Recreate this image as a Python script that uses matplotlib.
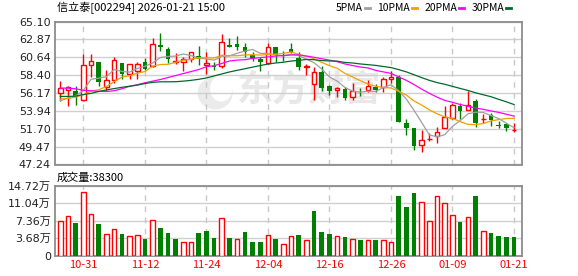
import matplotlib.pyplot as plt
from matplotlib.patches import Ellipse

# 字体: 数字用 DejaVu, 中文回退到 Noto Sans CJK
plt.rcParams['font.family'] = ['DejaVu Sans', 'Noto Sans CJK SC']

# ---- 数据 ----
tick_idx = [3, 11, 19, 27, 35, 43, 51, 59]
tick_labels = ['10-31', '11-12', '11-24', '12-04', '12-16', '12-26', '01-09', '01-21']

opens = [56.17, 56.59, 56.46, 55.27, 59.65, 60.06, 56.88, 57.79, 59.89, 58.53,
         58.98, 60.06, 59.56, 62.12, 61.67, 60.06, 60.06, 60.39, 60.76, 59.65,
         59.52, 59.52, 62.17, 62.29, 61.88, 60.88, 60.47, 59.89, 61.88, 60.97,
         61.63, 60.51, 59.40, 57.33, 58.74, 57.00, 56.50, 56.67, 55.64, 56.34,
         56.50, 56.88, 56.96, 57.95, 58.20, 52.37, 51.75, 49.69, 50.37, 50.80,
         51.75, 53.00, 54.60, 54.07, 55.14, 52.87, 53.45, 52.21, 52.29, 51.55]
highs = [57.70, 57.00, 57.00, 61.05, 61.05, 60.10, 59.07, 60.64, 59.97, 59.77,
         59.98, 60.55, 63.03, 63.61, 61.96, 61.13, 60.64, 61.34, 62.04, 61.34,
         60.10, 63.53, 63.06, 63.28, 62.37, 61.34, 60.64, 62.37, 61.88, 61.46,
         62.46, 61.34, 59.77, 59.40, 59.56, 57.12, 56.92, 56.88, 57.41, 56.79,
         57.74, 57.33, 58.20, 58.86, 58.41, 52.87, 51.75, 51.50, 51.17, 51.88,
         54.60, 54.94, 54.94, 56.42, 55.43, 53.53, 53.66, 52.66, 52.29, 52.37]
lows = [55.22, 54.52, 54.65, 55.20, 58.16, 57.00, 56.38, 57.42, 57.91, 57.91,
        57.91, 59.10, 59.40, 61.38, 59.89, 59.85, 58.98, 60.10, 59.65, 58.49,
        59.03, 59.23, 61.88, 61.50, 60.64, 60.14, 58.98, 59.85, 60.06, 60.22,
        61.13, 59.03, 58.41, 55.35, 56.42, 55.93, 55.68, 55.35, 55.35, 55.84,
        56.34, 56.26, 56.34, 57.46, 52.50, 50.88, 49.02, 48.86, 50.22, 49.98,
        51.75, 52.87, 52.87, 54.07, 51.88, 52.37, 52.08, 51.84, 51.38, 51.30]
closes = [56.79, 56.92, 55.76, 59.69, 60.22, 57.54, 57.79, 60.27, 58.53, 59.77,
          59.81, 59.15, 62.29, 61.96, 60.39, 60.18, 60.39, 61.30, 60.39, 59.89,
          59.40, 62.50, 61.88, 61.96, 61.30, 60.39, 60.06, 61.88, 60.97, 60.80,
          61.30, 59.36, 59.52, 58.78, 56.84, 56.42, 56.75, 55.60, 56.38, 56.26,
          57.00, 56.59, 57.95, 58.20, 52.54, 51.79, 49.53, 50.35, 50.45, 51.34,
          53.16, 54.69, 53.94, 54.69, 52.37, 52.95, 52.83, 52.04, 51.79, 51.60]

ma5 = [55.20, 55.54, 55.82, 56.49, 57.88, 58.03, 58.20, 59.10, 58.87, 58.78,
       59.23, 59.51, 59.91, 60.60, 60.72, 60.79, 61.04, 60.84, 60.53, 60.43,
       60.27, 60.70, 60.81, 61.13, 61.41, 61.61, 61.12, 61.12, 60.92, 60.82,
       61.00, 60.86, 60.39, 59.95, 59.16, 58.18, 57.66, 56.88, 56.40, 56.28,
       56.40, 56.37, 56.84, 57.20, 56.46, 55.41, 54.00, 52.48, 50.93, 50.69,
       50.97, 52.00, 52.72, 53.56, 53.77, 53.73, 53.36, 52.98, 52.40, 51.84]
ma10 = [55.41, 55.49, 55.66, 55.95, 56.41, 56.57, 56.98, 57.60, 58.15, 58.33,
        58.63, 58.85, 59.51, 59.73, 59.75, 60.01, 60.27, 60.38, 60.56, 60.58,
        60.53, 60.87, 60.83, 60.83, 60.92, 60.94, 60.91, 60.97, 61.02, 61.11,
        61.30, 60.99, 60.75, 60.44, 59.99, 59.59, 59.26, 58.63, 58.18, 57.72,
        57.29, 57.01, 56.86, 56.80, 56.37, 55.91, 55.18, 54.66, 54.07, 53.57,
        53.19, 53.00, 52.60, 52.25, 52.23, 52.35, 52.68, 52.85, 52.98, 53.01]
ma20 = [56.78, 56.78, 56.70, 56.50, 56.45, 56.38, 56.36, 56.45, 56.70, 57.00,
        57.20, 57.45, 57.65, 57.85, 58.10, 58.35, 58.60, 58.85, 59.10, 59.45,
        59.58, 59.86, 60.17, 60.28, 60.33, 60.48, 60.59, 60.67, 60.79, 60.84,
        60.92, 60.93, 60.79, 60.63, 60.45, 60.27, 60.08, 59.80, 59.60, 59.42,
        59.30, 59.00, 58.81, 58.62, 58.18, 57.75, 57.22, 56.65, 56.12, 55.65,
        55.24, 55.01, 54.73, 54.52, 54.30, 54.13, 53.93, 53.75, 53.52, 53.29]
ma30 = [55.74, 55.74, 55.78, 55.98, 56.12, 56.36, 56.55, 56.72, 56.88, 57.02,
        57.15, 57.35, 57.50, 57.57, 57.57, 57.58, 57.65, 57.75, 57.88, 58.05,
        58.30, 58.55, 58.80, 59.00, 59.20, 59.40, 59.60, 59.78, 59.92, 60.01,
        60.16, 60.24, 60.36, 60.33, 60.22, 60.18, 60.15, 59.99, 59.92, 59.80,
        59.71, 59.62, 59.48, 59.35, 59.09, 58.81, 58.45, 58.09, 57.75, 57.47,
        57.26, 57.00, 56.74, 56.49, 56.20, 55.95, 55.71, 55.38, 55.07, 54.73]

# 成交量 (万手)
volume = [7.31, 8.35, 6.96, 13.36, 8.77, 6.75, 4.59, 5.64, 4.45, 4.18,
          4.38, 3.41, 7.52, 5.92, 4.87, 3.41, 2.92, 2.92, 4.87, 5.29,
          3.62, 7.93, 3.62, 3.55, 5.08, 2.78, 2.78, 4.38, 3.41, 2.51,
          4.04, 4.25, 3.34, 9.47, 5.08, 4.45, 4.04, 3.83, 3.55, 3.20,
          3.34, 3.20, 3.34, 2.78, 12.60, 10.30, 13.22, 11.28, 7.31, 12.53,
          11.07, 8.56, 7.17, 8.14, 12.60, 5.22, 4.66, 4.04, 3.83, 3.83]
# 成交量柱颜色: 1 = 红(涨), 0 = 绿(跌)
vol_up = [1, 1, 0, 1, 1, 0, 1, 1, 0, 1, 1, 0, 1, 0, 0, 0, 1, 1, 0, 0,
          0, 1, 0, 1, 0, 0, 0, 1, 0, 1, 1, 0, 1, 0, 0, 0, 1, 0, 1, 0,
          1, 0, 1, 1, 0, 0, 0, 1, 1, 1, 1, 1, 0, 1, 0, 1, 0, 0, 0, 0]

price_ticks = [47.24, 49.47, 51.70, 53.94, 56.17, 58.40, 60.64, 62.87, 65.10]
vol_ticks = [0, 3.68, 7.36, 11.04, 14.72]
vol_tick_labels = ['0', '3.68万', '7.36万', '11.04万', '14.72万']
ma_names = ['5PMA', '10PMA', '20PMA', '30PMA']

RED = '#ff0000'
GREEN = '#008000'
MA_COLORS = ['#a0a0a0', '#f0a000', '#ff00ff', '#006a2e']
BORDER = '#8c8c8c'
W, H = 578, 276

fig = plt.figure(figsize=(W / 100, H / 100), dpi=100)
ax = fig.add_axes([55 / W, 1 - 164.5 / H, 467 / W, 143 / H])
axv = fig.add_axes([55 / W, 1 - 255.5 / H, 467 / W, 69.5 / H])

n = len(closes)
xs = list(range(n))
w = 0.6

# ---- K线 ----
for i in xs:
    o, h, l, c = opens[i], highs[i], lows[i], closes[i]
    if c >= o:
        ax.vlines(i, c, h, color=RED, lw=1, zorder=3)
        ax.vlines(i, l, o, color=RED, lw=1, zorder=3)
        ax.bar(i, c - o, bottom=o, width=w, facecolor='white', edgecolor=RED, lw=1, zorder=4)
    else:
        ax.vlines(i, l, h, color=GREEN, lw=1, zorder=3)
        ax.bar(i, o - c, bottom=c, width=w, color=GREEN, lw=0, zorder=4)

# 均线
for ma, col in zip([ma5, ma10, ma20, ma30], MA_COLORS):
    ax.plot(xs, ma, color=col, lw=0.9, zorder=5)

# ---- 成交量 ----
for i in xs:
    if vol_up[i]:
        axv.bar(i, volume[i], width=w, facecolor='white', edgecolor=RED, lw=1, zorder=3)
    else:
        axv.bar(i, volume[i], width=w, color=GREEN, lw=0, zorder=3)

for a, ticks in [(ax, price_ticks), (axv, vol_ticks)]:
    a.set_xlim(-0.69, 60.04)
    a.set_yticks(ticks)
    for t in ticks:
        a.axhline(t, color='#d0d0d0', lw=1, zorder=1)
    for t in tick_idx:
        a.axvline(t, color='#c8c8c8', lw=1, ls=(0, (4, 4)), zorder=1)
    for s in a.spines.values():
        s.set_color(BORDER)
        s.set_linewidth(1.3)
    a.tick_params(length=0, labelsize=8, colors='#222222', pad=3)

ax.set_ylim(47.24, 65.10)
ax.set_yticklabels([f'{t:.2f}' for t in price_ticks])
ax.set_xticks([])
axv.set_ylim(0, 14.72)
axv.set_yticklabels(vol_tick_labels)
axv.set_xticks(tick_idx)
axv.set_xticklabels(tick_labels, color=RED, family=['Noto Sans CJK SC'], fontsize=8)
axv.tick_params(axis='x', pad=3)

# 水印 (logo + 文字)
ax.add_patch(Ellipse((0.343, 0.50), 0.072, 0.22, transform=ax.transAxes,
                     color='#ebebeb', zorder=0))
ax.add_patch(Ellipse((0.356, 0.53), 0.045, 0.17, transform=ax.transAxes,
                     color='white', zorder=0))
ax.text(0.545, 0.52, '东方财富', transform=ax.transAxes, fontsize=26, fontweight='bold',
        color='#e8e8e8', ha='center', va='center', family=['Noto Sans CJK SC'], zorder=0)

# 标题和图例
fig.text(57 / W, 1 - 8 / H, '信立泰[002294] 2026-01-21 15:00', fontsize=8,
         family=['Noto Sans CJK SC'], va='center', ha='left')
dash_x = [365, 412, 459, 506]
for name, x0, col in zip(ma_names, dash_x, MA_COLORS):
    fig.text((x0 - 2) / W, 1 - 8 / H, name, fontsize=7.5, family=['Noto Sans CJK SC'],
             va='center', ha='right')
    fig.add_artist(plt.Line2D([x0 / W, (x0 + 5) / W], [1 - 8 / H, 1 - 8 / H],
                              color=col, lw=2))

fig.text(57 / W, 1 - 178 / H, '成交量:38300', fontsize=8,
         family=['Noto Sans CJK SC'], va='center', ha='left')

fig.savefig('out.png', dpi=100)
